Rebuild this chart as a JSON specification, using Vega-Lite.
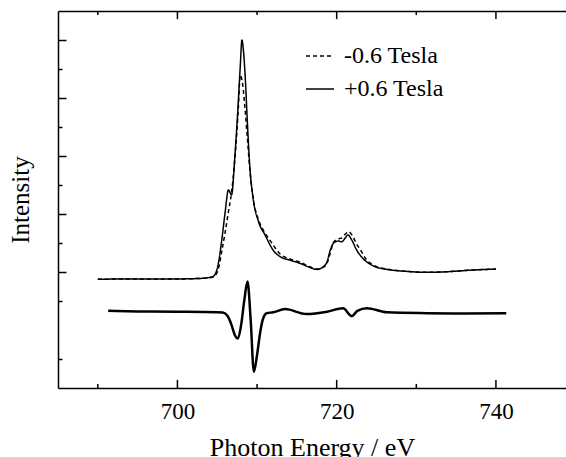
{
  "$schema": "https://vega.github.io/schema/vega-lite/v6.json",
  "autosize": {"type": "none"},
  "padding": {"left": 58, "top": 11, "right": 0, "bottom": 69},
  "width": 508,
  "height": 377,
  "background": "white",
  "config": {
    "view": {"stroke": null},
    "font": "Liberation Serif",
    "axis": {"domainColor": "black", "domainWidth": 1.5, "tickColor": "black", "tickWidth": 1.5, "grid": false, "labelFont": "Liberation Serif", "titleFont": "Liberation Serif", "titleFontWeight": "normal", "labelColor": "black", "titleColor": "black"},
    "legend": {"labelFont": "Liberation Serif", "labelFontSize": 24, "labelColor": "black"}
  },
  "resolve": {"axis": {"x": "independent", "y": "independent"}},
  "datasets": {
    "spec": [
      {"E": 690, "I": 3.75, "s": "+0.6 Tesla"}, {"E": 695, "I": 3.76, "s": "+0.6 Tesla"}, {"E": 700, "I": 3.76, "s": "+0.6 Tesla"}, {"E": 702, "I": 3.77, "s": "+0.6 Tesla"}, {"E": 703, "I": 3.78, "s": "+0.6 Tesla"}, {"E": 703.8, "I": 3.8, "s": "+0.6 Tesla"}, {"E": 704.5, "I": 3.85, "s": "+0.6 Tesla"}, {"E": 705.1, "I": 4.24, "s": "+0.6 Tesla"}, {"E": 705.6, "I": 5.17, "s": "+0.6 Tesla"}, {"E": 706.0, "I": 6.08, "s": "+0.6 Tesla"}, {"E": 706.4, "I": 6.83, "s": "+0.6 Tesla"}, {"E": 706.8, "I": 6.66, "s": "+0.6 Tesla"}, {"E": 707.2, "I": 7.93, "s": "+0.6 Tesla"}, {"E": 707.6, "I": 9.66, "s": "+0.6 Tesla"}, {"E": 707.9, "I": 11.14, "s": "+0.6 Tesla"}, {"E": 708.1, "I": 12.0, "s": "+0.6 Tesla"}, {"E": 708.3, "I": 11.6, "s": "+0.6 Tesla"}, {"E": 708.5, "I": 10.79, "s": "+0.6 Tesla"}, {"E": 708.8, "I": 9.07, "s": "+0.6 Tesla"}, {"E": 709.1, "I": 7.59, "s": "+0.6 Tesla"}, {"E": 709.5, "I": 6.55, "s": "+0.6 Tesla"}, {"E": 710.2, "I": 5.72, "s": "+0.6 Tesla"}, {"E": 711.0, "I": 5.28, "s": "+0.6 Tesla"}, {"E": 711.6, "I": 4.95, "s": "+0.6 Tesla"}, {"E": 712.0, "I": 4.76, "s": "+0.6 Tesla"}, {"E": 712.9, "I": 4.53, "s": "+0.6 Tesla"}, {"E": 714.1, "I": 4.41, "s": "+0.6 Tesla"}, {"E": 715.4, "I": 4.3, "s": "+0.6 Tesla"}, {"E": 716.7, "I": 4.15, "s": "+0.6 Tesla"}, {"E": 717.5, "I": 4.09, "s": "+0.6 Tesla"}, {"E": 718.3, "I": 4.18, "s": "+0.6 Tesla"}, {"E": 718.8, "I": 4.36, "s": "+0.6 Tesla"}, {"E": 719.2, "I": 4.76, "s": "+0.6 Tesla"}, {"E": 719.6, "I": 4.99, "s": "+0.6 Tesla"}, {"E": 720.2, "I": 5.07, "s": "+0.6 Tesla"}, {"E": 720.6, "I": 5.04, "s": "+0.6 Tesla"}, {"E": 721.1, "I": 5.18, "s": "+0.6 Tesla"}, {"E": 721.4, "I": 5.28, "s": "+0.6 Tesla"}, {"E": 721.9, "I": 5.1, "s": "+0.6 Tesla"}, {"E": 722.5, "I": 4.76, "s": "+0.6 Tesla"}, {"E": 723.4, "I": 4.44, "s": "+0.6 Tesla"}, {"E": 724.6, "I": 4.21, "s": "+0.6 Tesla"}, {"E": 726.3, "I": 4.09, "s": "+0.6 Tesla"}, {"E": 728.4, "I": 4.03, "s": "+0.6 Tesla"}, {"E": 731.3, "I": 3.99, "s": "+0.6 Tesla"}, {"E": 733.9, "I": 4.01, "s": "+0.6 Tesla"}, {"E": 737.2, "I": 4.07, "s": "+0.6 Tesla"}, {"E": 740, "I": 4.1, "s": "+0.6 Tesla"},
      {"E": 690, "I": 3.75, "s": "-0.6 Tesla"}, {"E": 695, "I": 3.76, "s": "-0.6 Tesla"}, {"E": 700, "I": 3.76, "s": "-0.6 Tesla"}, {"E": 702, "I": 3.77, "s": "-0.6 Tesla"}, {"E": 703, "I": 3.78, "s": "-0.6 Tesla"}, {"E": 703.8, "I": 3.8, "s": "-0.6 Tesla"}, {"E": 704.5, "I": 3.83, "s": "-0.6 Tesla"}, {"E": 705.1, "I": 4.07, "s": "-0.6 Tesla"}, {"E": 705.6, "I": 4.76, "s": "-0.6 Tesla"}, {"E": 706.0, "I": 5.38, "s": "-0.6 Tesla"}, {"E": 706.4, "I": 6.07, "s": "-0.6 Tesla"}, {"E": 706.8, "I": 6.76, "s": "-0.6 Tesla"}, {"E": 707.2, "I": 7.86, "s": "-0.6 Tesla"}, {"E": 707.6, "I": 9.41, "s": "-0.6 Tesla"}, {"E": 707.9, "I": 10.79, "s": "-0.6 Tesla"}, {"E": 708.2, "I": 10.45, "s": "-0.6 Tesla"}, {"E": 708.5, "I": 9.59, "s": "-0.6 Tesla"}, {"E": 708.8, "I": 8.55, "s": "-0.6 Tesla"}, {"E": 709.1, "I": 7.52, "s": "-0.6 Tesla"}, {"E": 709.5, "I": 6.55, "s": "-0.6 Tesla"}, {"E": 710.2, "I": 5.79, "s": "-0.6 Tesla"}, {"E": 711.0, "I": 5.34, "s": "-0.6 Tesla"}, {"E": 711.6, "I": 5.1, "s": "-0.6 Tesla"}, {"E": 712.9, "I": 4.62, "s": "-0.6 Tesla"}, {"E": 714.1, "I": 4.45, "s": "-0.6 Tesla"}, {"E": 715.4, "I": 4.34, "s": "-0.6 Tesla"}, {"E": 716.7, "I": 4.17, "s": "-0.6 Tesla"}, {"E": 717.5, "I": 4.1, "s": "-0.6 Tesla"}, {"E": 718.3, "I": 4.16, "s": "-0.6 Tesla"}, {"E": 718.8, "I": 4.31, "s": "-0.6 Tesla"}, {"E": 719.2, "I": 4.66, "s": "-0.6 Tesla"}, {"E": 719.6, "I": 5.03, "s": "-0.6 Tesla"}, {"E": 720.2, "I": 5.14, "s": "-0.6 Tesla"}, {"E": 720.6, "I": 5.17, "s": "-0.6 Tesla"}, {"E": 721.1, "I": 5.31, "s": "-0.6 Tesla"}, {"E": 721.5, "I": 5.39, "s": "-0.6 Tesla"}, {"E": 722.0, "I": 5.24, "s": "-0.6 Tesla"}, {"E": 722.5, "I": 4.97, "s": "-0.6 Tesla"}, {"E": 723.0, "I": 4.76, "s": "-0.6 Tesla"}, {"E": 723.7, "I": 4.44, "s": "-0.6 Tesla"}, {"E": 724.6, "I": 4.24, "s": "-0.6 Tesla"}, {"E": 726.3, "I": 4.1, "s": "-0.6 Tesla"}, {"E": 728.4, "I": 4.03, "s": "-0.6 Tesla"}, {"E": 731.3, "I": 3.99, "s": "-0.6 Tesla"}, {"E": 733.9, "I": 4.01, "s": "-0.6 Tesla"}, {"E": 737.2, "I": 4.07, "s": "-0.6 Tesla"}, {"E": 740, "I": 4.1, "s": "-0.6 Tesla"}
    ],
    "diff": [
      {"E": 691.3, "D": 2.66}, {"E": 695, "D": 2.64}, {"E": 700, "D": 2.63}, {"E": 705, "D": 2.61}, {"E": 705.7, "D": 2.6}, {"E": 706.3, "D": 2.48}, {"E": 706.8, "D": 2.17}, {"E": 707.2, "D": 1.83}, {"E": 707.6, "D": 1.71}, {"E": 708.0, "D": 2.17}, {"E": 708.4, "D": 3.03}, {"E": 708.8, "D": 3.67}, {"E": 709.2, "D": 2.34}, {"E": 709.6, "D": 0.56}, {"E": 710.0, "D": 1.14}, {"E": 710.4, "D": 1.93}, {"E": 710.7, "D": 2.34}, {"E": 711.2, "D": 2.58}, {"E": 712.0, "D": 2.61}, {"E": 713.5, "D": 2.72}, {"E": 716.2, "D": 2.55}, {"E": 718.8, "D": 2.63}, {"E": 720.8, "D": 2.75}, {"E": 721.9, "D": 2.48}, {"E": 722.6, "D": 2.66}, {"E": 723.8, "D": 2.75}, {"E": 726.3, "D": 2.61}, {"E": 731.3, "D": 2.58}, {"E": 736, "D": 2.57}, {"E": 741.3, "D": 2.58}
    ],
    "xmajor": [{"E": 700}, {"E": 720}, {"E": 740}],
    "xminor": [{"E": 690}, {"E": 710}, {"E": 730}],
    "frame": [{"E": 700, "I": 0}]
  },
  "layer": [
    {
      "data": {"name": "frame"},
      "mark": {"type": "point", "opacity": 0},
      "encoding": {
        "x": {"field": "E", "type": "quantitative", "scale": {"domain": [685, 748.8], "nice": false, "zero": false},
          "axis": {"orient": "top", "values": [700, 720, 740], "labels": false, "ticks": false, "title": null}},
        "y": {"field": "I", "type": "quantitative", "scale": {"domain": [0, 13], "nice": false, "zero": false},
          "axis": {"orient": "left", "values": [4, 6, 8, 10, 12], "labels": false, "title": "Intensity", "titleFontSize": 25, "titlePadding": 24, "tickSize": -8}}
      }
    },
    {
      "data": {"name": "frame"},
      "mark": {"type": "point", "opacity": 0},
      "encoding": {
        "x": {"field": "E", "type": "quantitative",
          "axis": {"orient": "bottom", "values": [700, 720, 740], "labelFontSize": 23, "labelPadding": 12, "ticks": false, "title": "Photon Energy / eV", "titleFontSize": 26, "titlePadding": 11}},
        "y": {"field": "I", "type": "quantitative",
          "axis": {"orient": "left", "values": [1, 3, 5, 7, 9, 11], "labels": false, "title": null, "tickSize": -4, "domain": false}}
      }
    },
    {
      "data": {"name": "xmajor"},
      "mark": {"type": "rule", "color": "black", "strokeWidth": 1.5},
      "encoding": {
        "x": {"field": "E", "type": "quantitative", "axis": null},
        "y": {"datum": 0, "type": "quantitative", "axis": null},
        "y2": {"datum": 0.28}
      }
    },
    {
      "data": {"name": "xmajor"},
      "mark": {"type": "rule", "color": "black", "strokeWidth": 1.5},
      "encoding": {
        "x": {"field": "E", "type": "quantitative", "axis": null},
        "y": {"datum": 12.72, "type": "quantitative", "axis": null},
        "y2": {"datum": 13}
      }
    },
    {
      "data": {"name": "xminor"},
      "mark": {"type": "rule", "color": "black", "strokeWidth": 1.5},
      "encoding": {
        "x": {"field": "E", "type": "quantitative", "axis": null},
        "y": {"datum": 0, "type": "quantitative", "axis": null},
        "y2": {"datum": 0.14}
      }
    },
    {
      "data": {"name": "xminor"},
      "mark": {"type": "rule", "color": "black", "strokeWidth": 1.5},
      "encoding": {
        "x": {"field": "E", "type": "quantitative", "axis": null},
        "y": {"datum": 12.86, "type": "quantitative", "axis": null},
        "y2": {"datum": 13}
      }
    },
    {
      "data": {"name": "spec"},
      "mark": {"type": "line", "color": "black", "strokeWidth": 1.5, "interpolate": "monotone"},
      "encoding": {
        "x": {"field": "E", "type": "quantitative", "axis": null},
        "y": {"field": "I", "type": "quantitative", "axis": null},
        "strokeDash": {"field": "s", "type": "nominal",
          "scale": {"domain": ["-0.6 Tesla", "+0.6 Tesla"], "range": [[4, 3], [1, 0]]},
          "legend": {"orient": "none", "legendX": 247, "legendY": 30, "title": null, "symbolType": "stroke", "symbolSize": 784, "symbolStrokeWidth": 1.5, "symbolStrokeColor": "black", "labelFont": "Liberation Serif", "labelFontSize": 24, "labelColor": "black", "labelOffset": 9, "rowPadding": 6}}
      }
    },
    {
      "data": {"name": "diff"},
      "mark": {"type": "line", "color": "black", "strokeWidth": 2.5, "interpolate": "monotone"},
      "encoding": {
        "x": {"field": "E", "type": "quantitative", "axis": null},
        "y": {"field": "D", "type": "quantitative", "axis": null}
      }
    }
  ]
}
